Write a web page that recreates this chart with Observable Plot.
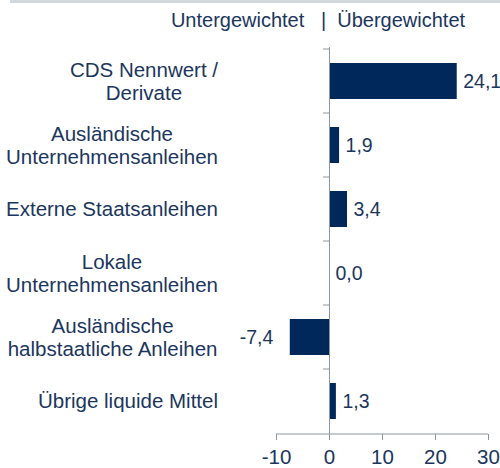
<!DOCTYPE html>
<html><head><meta charset="utf-8">
<script src="https://cdn.jsdelivr.net/npm/d3@7"></script>
<script src="https://cdn.jsdelivr.net/npm/@observablehq/plot@0.6"></script>
<style>
body{margin:0;background:#fff;font-family:"Liberation Sans",Arial,sans-serif;}
#wrap{position:relative;width:500px;height:468px;overflow:hidden;background:#fff}
#topline{position:absolute;left:10px;top:0;width:490px;height:3px;background:#d3d8dd}
#header{position:absolute;top:10px;left:0;width:636px;text-align:center;font-size:20px;line-height:20px;color:#1b365d;white-space:pre}
#chart{position:absolute;top:0;left:0}
</style></head>
<body>
<div id="wrap">
  <div id="topline"></div>
  <div id="header"></div>
  <div id="chart"></div>
</div>
<script>
const headerLeft = "Untergewichtet";
const headerRight = "Übergewichtet";
const categories = [
  "CDS Nennwert /\nDerivate",
  "Ausländische\nUnternehmensanleihen",
  "Externe Staatsanleihen",
  "Lokale\nUnternehmensanleihen",
  "Ausländische\nhalbstaatliche Anleihen",
  "Übrige liquide Mittel"
];
const values = [24.1, 1.9, 3.4, 0.0, -7.4, 1.3];
const xTicks = [-10, 0, 10, 20, 30];

const textColor = "#1b365d";
const barColor = "#00285a";
const axisColor = "#8d979f";
const fontSize = 20.5;
const valueFontSize = 19.5;
const lineH = 23;

document.getElementById("header").textContent = headerLeft + "   |  " + headerRight;

const data = categories.map((c, i) => ({category: c, value: values[i]}));
const fmt = v => v.toFixed(1).replace(".", ",");

function yAxisDecor(index, scales, vals, dims) {
  const g = d3.create("svg:g");
  const y = scales.y, x = scales.x;
  const bw = y.bandwidth ? y.bandwidth() : (dims.height - dims.marginTop - dims.marginBottom) / categories.length;
  const x0 = x(0);
  for (const c of categories) {
    g.append("line").attr("x1", x0 - 6).attr("x2", x0)
      .attr("y1", y(c)).attr("y2", y(c))
      .attr("stroke", axisColor).attr("stroke-width", 1);
  }
  const yb = dims.height - dims.marginBottom;
  g.append("line").attr("x1", x(xTicks[0])).attr("x2", x(xTicks[xTicks.length - 1]))
    .attr("y1", yb).attr("y2", yb).attr("stroke", axisColor).attr("stroke-width", 1);
  const ctx = document.createElement("canvas").getContext("2d");
  ctx.font = `${fontSize}px "Liberation Sans"`;
  const right = dims.marginLeft - 58;
  const tg = g.append("g").attr("fill", textColor).attr("font-size", fontSize)
    .attr("font-family", "Liberation Sans, Arial, sans-serif");
  for (const c of categories) {
    const lines = c.split("\n");
    const w = Math.max(...lines.map(l => ctx.measureText(l).width));
    const cx = right - w / 2;
    const cy = y(c) + bw / 2;
    const t = tg.append("text").attr("text-anchor", "middle").attr("transform", `translate(${cx},${cy})`);
    lines.forEach((l, i) => t.append("tspan").attr("x", 0)
      .attr("y", (i - (lines.length - 1) / 2) * lineH).attr("dy", "0.35em").text(l));
  }
  return g.node();
}

const chart = Plot.plot({
  width: 500,
  height: 468,
  marginTop: 47,
  marginBottom: 34,
  marginLeft: 276,
  marginRight: 12,
  style: {fontFamily: "Liberation Sans, Arial, sans-serif", fontSize: fontSize + "px", color: textColor, background: "transparent", overflow: "visible"},
  x: {domain: [xTicks[0], xTicks[xTicks.length - 1]]},
  y: {domain: categories, padding: 0},
  marks: [
    Plot.barX(data, {x: "value", y: "category", fill: barColor, insetTop: 14, insetBottom: 14}),
    Plot.ruleX([0], {stroke: axisColor, strokeWidth: 1}),
    Plot.axisX({ticks: xTicks, tickSize: 6, tickPadding: 9, stroke: axisColor, fill: textColor, tickFormat: d => String(d), label: null}),
    Plot.axisY({ticks: [], label: null}),
    Plot.text(data.filter(d => d.value >= 0), {x: "value", y: "category", text: d => fmt(d.value), textAnchor: "start", dx: 6, fill: textColor, fontSize: valueFontSize}),
    Plot.text(data.filter(d => d.value < 0), {x: "value", y: "category", text: d => fmt(d.value), textAnchor: "end", dx: -17, fill: textColor, fontSize: valueFontSize}),
    yAxisDecor
  ]
});
document.getElementById("chart").appendChild(chart);
</script>
</body></html>
